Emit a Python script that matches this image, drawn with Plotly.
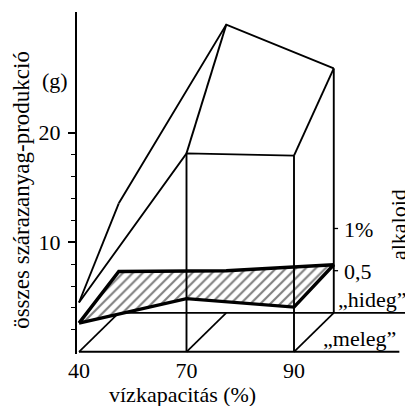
import plotly.graph_objects as go

# ---- data ----
categories = ["40", "70", "90"]            # vízkapacitás (%)
meleg_dry = [4.5, 18.1, 17.9]              # összes szárazanyag-produkció (g), "meleg" (front)
hideg_dry = [10.0, 26.3, 22.3]             # "hideg" (back)
meleg_alk = [0.34, 0.63, 0.53]             # alkaloid %, "meleg"
hideg_alk = [0.49, 0.50, 0.57]             # alkaloid %, "hideg"
dry_ticks = [10, 20]
dry_minor = [2, 4, 6, 8, 12, 14, 16, 18]
alk_ticks = [0.5, 1.0]
alk_tick_text = ["0,5", "1%"]

# ---- pseudo-3D projection parameters ----
DX = 0.37     # depth shift in category units
DY = 3.55     # depth shift in g units
ALK = 7.7     # g-units per 1 % alkaloid
XMAX_FRONT = 2.98
XMAX_BACK = 3.09

xi = list(range(len(categories)))
xb = [x + DX for x in xi]

BLACK = "black"
FONT = "Liberation Serif, Times New Roman, serif"
LW = 1.9
fig = go.Figure()

def seg(xs, ys, w=LW):
    fig.add_trace(go.Scatter(x=xs, y=ys, mode="lines",
                             line=dict(color=BLACK, width=w),
                             hoverinfo="skip", showlegend=False))

# base planes
seg([0, XMAX_FRONT], [0, 0], 2.0)
seg([DX, XMAX_BACK], [DY, DY], 1.8)
for x in xi:
    seg([x, x + DX], [0, DY], 1.7)

# alkaloid hatched sheet
fx = xi + xb[::-1] + [xi[0]]
fy = [a * ALK for a in meleg_alk] + [DY + a * ALK for a in hideg_alk][::-1] + [meleg_alk[0] * ALK]
fig.add_trace(go.Scatter(x=fx, y=fy, mode="lines", fill="toself",
                         fillcolor="rgba(0,0,0,0)",
                         fillpattern=dict(shape="/", size=7, solidity=0.3,
                                          fgcolor=BLACK, bgcolor="white"),
                         line=dict(color=BLACK, width=3.4),
                         hoverinfo="skip", showlegend=False))

# dry matter surface
seg(xi, meleg_dry)
seg(xb, [DY + v for v in hideg_dry])
for i in range(len(xi)):
    seg([xi[i], xb[i]], [meleg_dry[i], DY + hideg_dry[i]])

# vertical drop lines (front 70, 90) and back alkaloid axis
for i in (1, 2):
    seg([xi[i], xi[i]], [0, meleg_dry[i]])
seg([xb[-1], xb[-1]], [DY, DY + hideg_dry[-1]])

# alkaloid axis ticks
for t in alk_ticks:
    seg([xb[-1], xb[-1] + 0.04], [DY + t * ALK, DY + t * ALK], 1.3)

ann = []
for t, txt in zip(alk_ticks, alk_tick_text):
    ann.append(dict(x=xb[-1], y=DY + t * ALK, text=txt, showarrow=False,
                    xanchor="left", yanchor="middle", xshift=8, yshift=-1,
                    font=dict(size=22)))
ann.append(dict(x=xb[-1], y=DY, text="„hideg”", showarrow=False,
                xanchor="left", yanchor="bottom", xshift=2, yshift=-1,
                font=dict(size=22)))
ann.append(dict(x=xi[-1], y=0, text="„meleg”", showarrow=False,
                xanchor="left", yanchor="bottom", xshift=27, yshift=-1,
                font=dict(size=22)))
ann.append(dict(x=xb[-1], y=DY + 1.05 * ALK, text="alkaloid", showarrow=False,
                textangle=-90, xanchor="center", yanchor="middle", xshift=64,
                font=dict(size=22)))
ann.append(dict(xref="paper", yref="paper", x=0, y=0.801, text="(g)",
                showarrow=False, xanchor="center", yanchor="middle", xshift=-22,
                font=dict(size=22)))
ann.append(dict(xref="paper", yref="paper", x=0, y=0.48,
                text="összes szárazanyag-produkció", showarrow=False,
                textangle=-90, xanchor="center", yanchor="middle", xshift=-55,
                font=dict(size=23)))
ann.append(dict(xref="paper", yref="paper", x=0.315, y=-0.118,
                text="vízkapacitás (%)", showarrow=False,
                xanchor="center", yanchor="middle", font=dict(size=22)))

# page body has an 8px margin: figure is 8px smaller and margins shifted by 8px
fig.update_layout(
    width=405, height=398,
    margin=dict(l=69, r=0, t=4, b=52, autoexpand=False),
    paper_bgcolor="white", plot_bgcolor="white",
    font=dict(family=FONT, color=BLACK, size=22),
    annotations=ann,
    xaxis=dict(range=[-0.0186, 3.107], showgrid=False, zeroline=False,
               showline=False, tickmode="array", tickvals=xi, ticktext=categories,
               ticks="", ticklabelstandoff=1, tickfont=dict(size=22),
               automargin=False),
    yaxis=dict(range=[-0.2, 31], showgrid=False, zeroline=False,
               showline=True, linecolor=BLACK, linewidth=2,
               tickmode="array", tickvals=dry_ticks, ticktext=[str(t) for t in dry_ticks],
               ticks="outside", ticklen=7, tickwidth=1.5, tickcolor=BLACK,
               tickfont=dict(size=22), automargin=False, ticklabelstandoff=3,
               minor=dict(tickvals=dry_minor, ticks="outside", ticklen=4,
                          tickwidth=1.2, tickcolor=BLACK)),
)

fig.write_html("out.html")
